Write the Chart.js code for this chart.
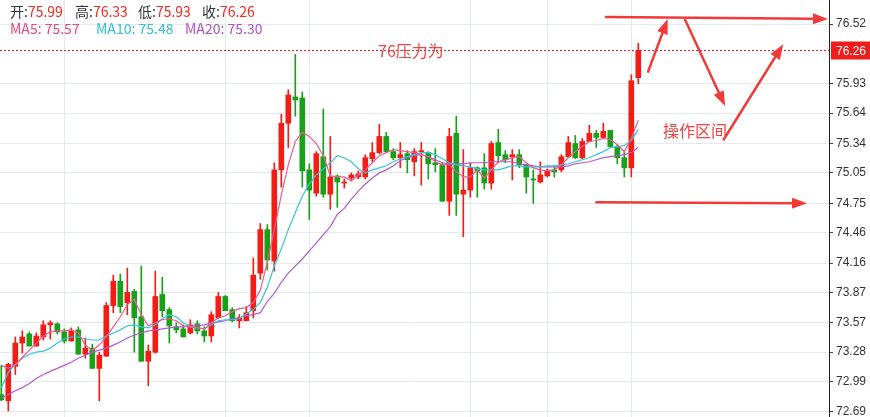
<!DOCTYPE html>
<html>
<head>
<meta charset="utf-8">
<script src="https://cdn.jsdelivr.net/npm/chart.js@4.4.1/dist/chart.umd.min.js"></script>
<style>
  body { margin: 0; background: #fff; }
  #wrap { position: relative; width: 870px; height: 417px; }
  .hd { position: absolute; font: 14px "Noto Sans CJK SC", sans-serif; line-height: 14px; white-space: nowrap; }
  .lb { color: #333; }
  .up { color: #f52a22; }
  .note { position: absolute; font: 16px "Noto Sans CJK SC", sans-serif; line-height: 16px; color: #f04444; white-space: nowrap; }
</style>
</head>
<body>
<div id="wrap">
  <canvas id="kline" width="870" height="417"></canvas>
  <div id="head"></div>
  <div class="note" style="left:378px; top:42px;">76压力为</div>
  <div class="note" style="left:663px; top:122px;">操作区间</div>
</div>
<script>
// candles, oldest first
const openP = [
  72.86, 72.80, 73.14, 73.37, 73.46, 73.34, 73.43, 73.55, 73.56, 73.48,
  73.39, 73.50, 73.26, 73.32, 73.12, 73.24, 73.74, 73.98, 73.77, 73.88,
  73.63, 73.19, 73.28, 73.85, 73.70, 73.53, 73.51, 73.47, 73.56, 73.49,
  73.44, 73.62, 73.83, 73.70, 73.59, 73.59, 73.69, 74.06, 74.49, 74.18,
  75.08, 75.54, 75.80, 75.79, 75.08, 74.85, 75.21, 74.84, 75.02, 74.95,
  75.00, 75.01, 75.01, 75.19, 75.25, 75.41, 75.26, 75.20, 75.24, 75.16,
  75.26, 75.25, 75.15, 75.13, 74.77, 75.44, 74.84, 74.88, 75.10, 75.10,
  74.95, 75.35, 75.23, 75.21, 75.23, 75.13, 74.99, 74.96, 75.02, 75.08,
  75.08, 75.21, 75.34, 75.20, 75.36, 75.44, 75.40, 75.47, 75.31, 75.20,
  75.10, 75.99
];
const highP = [
  73.15, 73.17, 73.43, 73.49, 73.48, 73.47, 73.59, 73.59, 73.57, 73.51,
  73.52, 73.53, 73.42, 73.36, 73.28, 73.77, 74.04, 74.05, 74.11, 73.90,
  74.13, 73.35, 74.08, 74.02, 73.72, 73.57, 73.55, 73.60, 73.59, 73.53,
  73.68, 73.87, 73.84, 73.72, 73.65, 73.73, 74.21, 74.55, 74.54, 75.15,
  75.63, 75.87, 76.22, 75.85, 75.14, 75.26, 75.68, 75.41, 75.03, 74.99,
  75.05, 75.07, 75.23, 75.35, 75.53, 75.45, 75.29, 75.35, 75.27, 75.29,
  75.35, 75.26, 75.29, 75.15, 75.49, 75.61, 75.28, 75.15, 75.11, 75.24,
  75.36, 75.48, 75.27, 75.28, 75.28, 75.13, 75.08, 75.16, 75.09, 75.12,
  75.23, 75.41, 75.42, 75.39, 75.52, 75.47, 75.54, 75.47, 75.33, 75.26,
  76.02, 76.33
];
const lowP = [
  72.80, 72.70, 73.06, 73.27, 73.34, 73.34, 73.40, 73.41, 73.46, 73.37,
  73.39, 73.26, 73.22, 73.12, 72.80, 73.24, 73.67, 73.67, 73.65, 73.28,
  73.19, 72.95, 73.27, 73.63, 73.37, 73.47, 73.43, 73.46, 73.46, 73.38,
  73.38, 73.61, 73.69, 73.58, 73.52, 73.59, 73.62, 74.00, 74.09, 74.08,
  74.91, 75.30, 75.61, 74.91, 74.59, 74.82, 74.81, 74.69, 74.71, 74.90,
  74.98, 74.99, 74.99, 75.16, 75.24, 75.25, 75.18, 75.10, 75.05, 75.02,
  74.93, 74.99, 75.06, 74.77, 74.63, 74.63, 74.42, 74.81, 74.81, 74.89,
  74.89, 75.15, 75.15, 74.98, 75.10, 74.85, 74.75, 74.95, 75.01, 75.01,
  75.06, 75.20, 75.19, 75.19, 75.36, 75.30, 75.40, 75.31, 75.14, 75.01,
  75.01, 75.93
];
const closeP = [
  72.81, 73.16, 73.37, 73.43, 73.34, 73.44, 73.55, 73.57, 73.48, 73.39,
  73.49, 73.26, 73.32, 73.12, 73.25, 73.74, 73.98, 73.73, 73.87, 73.62,
  73.19, 73.29, 73.83, 73.69, 73.54, 73.50, 73.43, 73.55, 73.49, 73.44,
  73.65, 73.83, 73.69, 73.59, 73.62, 73.67, 74.04, 74.49, 74.19, 75.08,
  75.54, 75.82, 75.77, 75.07, 74.88, 75.24, 74.84, 75.01, 74.96, 74.96,
  75.03, 75.04, 75.20, 75.25, 75.41, 75.26, 75.20, 75.23, 75.18, 75.26,
  75.27, 75.14, 75.13, 74.77, 75.41, 74.84, 74.88, 75.10, 75.07, 74.95,
  75.34, 75.22, 75.18, 75.23, 75.13, 75.01, 74.98, 75.03, 75.07, 75.06,
  75.21, 75.35, 75.20, 75.36, 75.44, 75.40, 75.46, 75.31, 75.20, 75.10,
  75.96, 76.26
];

// moving averages
const ma5 = [
  73.15, 73.12, 73.15, 73.23, 73.30, 73.37, 73.44, 73.48, 73.49, 73.49,
  73.50, 73.47, 73.35, 73.30, 73.35, 73.43, 73.53, 73.63, 73.75, 73.80,
  73.65, 73.54, 73.57, 73.60, 73.61, 73.59, 73.54, 73.53, 73.52, 73.51,
  73.57, 73.62, 73.64, 73.68, 73.71, 73.72, 73.77, 73.89, 74.17, 74.49,
  74.83, 75.13, 75.36, 75.45, 75.41, 75.34, 75.22, 75.02, 75.01, 75.01,
  74.97, 75.03, 75.08, 75.15, 75.22, 75.25, 75.28, 75.27, 75.26, 75.25,
  75.23, 75.21, 75.16, 75.13, 75.13, 75.06, 75.01, 75.01, 75.08, 75.00,
  75.08, 75.16, 75.18, 75.20, 75.21, 75.15, 75.10, 75.08, 75.07, 75.08,
  75.13, 75.20, 75.26, 75.31, 75.36, 75.37, 75.39, 75.38, 75.33, 75.26,
  75.39, 75.57
];
const ma10 = [
  72.93, 73.08, 73.16, 73.22, 73.26, 73.28, 73.29, 73.32, 73.37, 73.41,
  73.43, 73.43, 73.41, 73.40, 73.40, 73.44, 73.47, 73.50, 73.54, 73.55,
  73.53, 73.52, 73.55, 73.61, 73.65, 73.63, 73.57, 73.53, 73.52, 73.51,
  73.55, 73.59, 73.60, 73.60, 73.61, 73.66, 73.70, 73.77, 73.92, 74.13,
  74.30, 74.49, 74.66, 74.82, 74.94, 75.03, 75.09, 75.15, 75.22, 75.20,
  75.16, 75.09, 75.05, 75.08, 75.10, 75.12, 75.16, 75.19, 75.21, 75.23,
  75.25, 75.25, 75.23, 75.19, 75.15, 75.13, 75.12, 75.11, 75.09, 75.08,
  75.08, 75.08, 75.10, 75.12, 75.12, 75.11, 75.11, 75.11, 75.12, 75.12,
  75.13, 75.14, 75.16, 75.18, 75.20, 75.23, 75.26, 75.30, 75.31, 75.32,
  75.37, 75.48
];
const ma20 = [
  72.83, 72.86, 72.90, 72.93, 72.97, 73.02, 73.06, 73.09, 73.12, 73.15,
  73.18, 73.22, 73.25, 73.28, 73.30, 73.32, 73.35, 73.38, 73.42, 73.45,
  73.47, 73.49, 73.50, 73.51, 73.52, 73.53, 73.53, 73.54, 73.54, 73.55,
  73.57, 73.58, 73.59, 73.61, 73.62, 73.64, 73.65, 73.67, 73.78, 73.86,
  73.97, 74.06, 74.13, 74.20, 74.28, 74.36, 74.44, 74.52, 74.64, 74.70,
  74.79, 74.87, 74.94, 75.00, 75.05, 75.08, 75.12, 75.17, 75.20, 75.22,
  75.23, 75.21, 75.18, 75.15, 75.14, 75.14, 75.14, 75.15, 75.15, 75.15,
  75.16, 75.16, 75.16, 75.16, 75.14, 75.13, 75.12, 75.11, 75.11, 75.11,
  75.11, 75.12, 75.14, 75.15, 75.16, 75.18, 75.20, 75.21, 75.22, 75.23,
  75.25, 75.30
];

const yTicks = [72.69, 72.99, 73.28, 73.57, 73.87, 74.16, 74.46, 74.75, 75.05, 75.34, 75.64, 75.93, 76.52];
const dayLines = [9, 32, 44, 67, 78, 90];   // session separators (candle index)

// hand-drawn arrows: [fromIndex, fromPrice, toIndex, toPrice]
const arrows = [
  [86.4, 76.59, 118.1, 76.57],
  [92.4, 76.05, 95.2, 76.57],
  [97.7, 76.56, 103.4, 75.71],
  [103.2, 75.38, 111.7, 76.32],
  [85.0, 74.76, 115.1, 74.75]
];

const RED = "#f21d14";
const GREEN = "#19a019";
const n = closeP.length;
const idx = closeP.map((_, i) => i);
const candleColor = idx.map(i => closeP[i] >= openP[i] ? RED : GREEN);

// header
const fmt = v => v.toFixed(2);
const headRows = [
  [4, [[10, "开:", fmt(openP[n - 1]), "up"], [75, "高:", fmt(highP[n - 1]), "up"],
       [138, "低:", fmt(lowP[n - 1]), "up"], [202, "收:", fmt(closeP[n - 1]), "up"]]],
  [21, [[10, "MA5: " + fmt(ma5[n - 1]), "", "#e8467c"], [96, "MA10: " + fmt(ma10[n - 1]), "", "#2ec0d8"],
        [185, "MA20: " + fmt(ma20[n - 1]), "", "#b050c8"]]]
];
const head = document.getElementById("head");
headRows.forEach(([top, items]) => {
  items.forEach(([left, a, b, cls]) => {
    const s = document.createElement("div");
    s.className = "hd";
    s.style.left = left + "px";
    s.style.top = top + "px";
    if (b) {
      s.innerHTML = `<span class="lb">${a}</span><span class="${cls}">${b}</span>`;
    } else {
      s.textContent = a;
      s.style.color = cls;
    }
    head.appendChild(s);
  });
});

const overlay = {
  id: "overlay",
  afterDraw(chart) {
    const { ctx, chartArea: a, scales: { x, y } } = chart;
    const last = closeP[n - 1];
    const py = Math.round(y.getPixelForValue(last)) + 0.5;
    ctx.save();
    // last price line + tag
    ctx.strokeStyle = "#f01c1c";
    ctx.lineWidth = 1;
    ctx.setLineDash([2, 2]);
    ctx.beginPath();
    ctx.moveTo(a.left, py);
    ctx.lineTo(a.right, py);
    ctx.stroke();
    ctx.setLineDash([]);
    ctx.fillStyle = "#f01c1c";
    ctx.fillRect(a.right + 2, py - 9, chart.width - a.right - 2, 18);
    ctx.fillStyle = "#fff";
    ctx.font = '12px "Liberation Sans"';
    ctx.textBaseline = "middle";
    ctx.fillText(fmt(last), a.right + 7, py + 1);

    // arrows
    ctx.strokeStyle = "#f23a3a";
    ctx.fillStyle = "#f23a3a";
    ctx.lineWidth = 2.5;
    ctx.lineCap = "round";
    arrows.forEach(([i0, p0, i1, p1]) => {
      const x0 = x.getPixelForValue(i0), y0 = y.getPixelForValue(p0);
      const x1 = x.getPixelForValue(i1), y1 = y.getPixelForValue(p1);
      const ang = Math.atan2(y1 - y0, x1 - x0);
      const hl = 15, hw = 5.5;
      const bx = x1 - hl * Math.cos(ang), by = y1 - hl * Math.sin(ang);
      ctx.beginPath();
      ctx.moveTo(x0, y0);
      ctx.lineTo(bx, by);
      ctx.stroke();
      ctx.beginPath();
      ctx.moveTo(x1, y1);
      ctx.lineTo(bx + hw * Math.sin(ang), by - hw * Math.cos(ang));
      ctx.lineTo(bx - hw * Math.sin(ang), by + hw * Math.cos(ang));
      ctx.closePath();
      ctx.fill();
    });
    ctx.restore();
  }
};

const lineSet = (vals, color) => ({
  type: "line",
  data: idx.map(i => ({ x: i, y: vals[i] })),
  borderColor: color,
  borderWidth: 1.2,
  pointRadius: 0,
  tension: 0,
  order: 0
});

new Chart(document.getElementById("kline").getContext("2d"), {
  type: "bar",
  data: {
    datasets: [
      lineSet(ma5, "#ee5b93"),
      lineSet(ma10, "#35c6dc"),
      lineSet(ma20, "#b35ad0"),
      {
        data: idx.map(i => ({ x: i, y: [lowP[i], highP[i]] })),
        backgroundColor: candleColor,
        barThickness: 1,
        grouped: false,
        order: 2
      },
      {
        data: idx.map(i => ({ x: i, y: [openP[i], closeP[i]] })),
        backgroundColor: candleColor,
        barThickness: 5,
        minBarLength: 1,
        grouped: false,
        order: 1
      }
    ]
  },
  options: {
    responsive: false,
    animation: false,
    layout: { padding: 0 },
    plugins: { legend: { display: false }, tooltip: { enabled: false } },
    scales: {
      x: {
        type: "linear",
        min: -0.186,
        max: 118.243,
        offset: false,
        grid: { offset: false, color: "#e2eaee", drawTicks: false },
        border: { display: false },
        ticks: { display: false },
        afterBuildTicks: s => { s.ticks = dayLines.map(v => ({ value: v })); },
        afterFit: s => { s.height = 0; s.paddingLeft = 0; s.paddingRight = 0; }
      },
      y: {
        position: "right",
        min: 72.64,
        max: 76.757,
        grid: { color: "#e2eaee", tickColor: "#444", tickLength: 4 },
        border: { color: "#222" },
        ticks: {
          font: { family: "Liberation Sans", size: 12 },
          color: "#333",
          padding: 3,
          callback: v => fmt(v)
        },
        afterBuildTicks: s => { s.ticks = yTicks.map(v => ({ value: v })); },
        afterFit: s => { s.width = 41; s.paddingTop = 0; s.paddingBottom = 0; }
      }
    }
  },
  plugins: [overlay]
});
</script>
</body>
</html>
